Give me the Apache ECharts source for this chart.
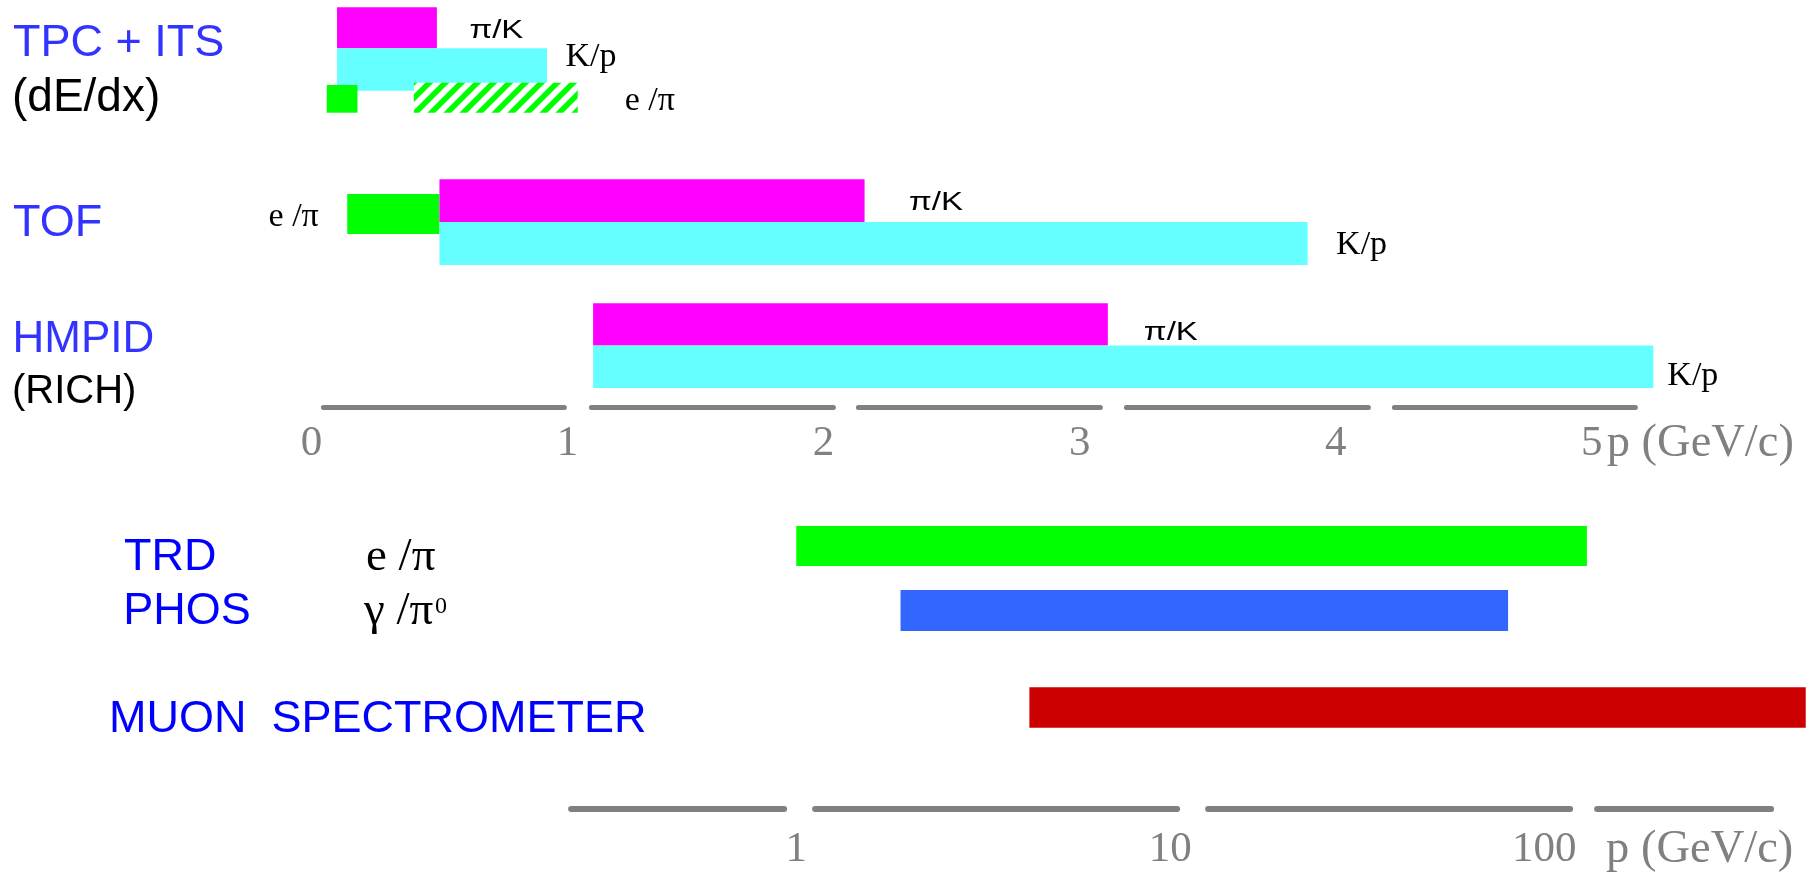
<!DOCTYPE html>
<html>
<head>
<meta charset="utf-8">
<title>ALICE particle identification ranges</title>
<script src="https://cdn.jsdelivr.net/npm/echarts@6/dist/echarts.min.js"></script>
<style>
  html, body { margin: 0; padding: 0; background: #ffffff; }
  #chart { width: 1818px; height: 874px; }
</style>
</head>
<body>
<div id="chart"></div>
<script>
// ---------------------------------------------------------------------------
// Momentum ranges (GeV/c) over which each detector separates a particle pair
// ---------------------------------------------------------------------------

// Low-momentum panel, linear scale
const lowDetector = ['TPC + ITS', 'TPC + ITS', 'TPC + ITS', 'TPC + ITS', 'TOF', 'TOF', 'TOF', 'HMPID', 'HMPID'];
const lowPair     = ['π/K', 'K/p', 'e /π', 'e /π', 'e /π', 'π/K', 'K/p', 'π/K', 'K/p'];
const lowFrom     = [0.10, 0.10, 0.06, 0.40, 0.14, 0.50, 0.50, 1.10, 1.10];
const lowTo       = [0.49, 0.92, 0.18, 1.04, 0.50, 2.16, 3.89, 3.11, 5.24];
const lowTicks    = [0, 1, 2, 3, 4, 5];

// High-momentum panel, logarithmic scale
const highDetector = ['TRD', 'PHOS', 'MUON  SPECTROMETER'];
const highPair     = ['e /π', 'γ /π', ''];
const highPairSup  = ['', '0', ''];
const highFrom     = [1.0, 1.9, 4.2];
const highTo       = [130, 80, 500];
const highTicks    = [1, 10, 100];

const axisTitle = 'p (GeV/c)';

// ---------------------------------------------------------------------------
// Layout and look
// ---------------------------------------------------------------------------

// vertical placement of each bar, in row units of its panel (top edge, thickness)
const lowRows = [
  { top: 0.000, span: 0.970 }, { top: 0.970, span: 1.002 },
  { top: 1.837, span: 0.655 }, { top: 1.783, span: 0.709 },
  { top: 4.414, span: 0.945 }, { top: 4.066, span: 1.010 }, { top: 5.076, span: 1.016 },
  { top: 6.998, span: 0.997 }, { top: 7.995, span: 1.005 }
];
const highRows = [
  { top: 0.000, span: 0.976 }, { top: 1.561, span: 1.000 }, { top: 3.934, span: 0.985 }
];

const MAGENTA = '#ff00ff', CYAN = '#66ffff', GREEN = '#00ff00';
const lowLook  = [MAGENTA, CYAN, GREEN, 'hatch', GREEN, MAGENTA, CYAN, MAGENTA, CYAN];
const highLook = [GREEN, '#3366ff', '#cc0000'];

// where the pair label sits next to its bar (px from the bar end / start and from its centre line)
const lowLabelPlace = [
  { side: 'end',   dx: 32.5,  dy: 3.5,  face: 'sans'  },
  { side: 'end',   dx: 18.5,  dy: -12,  face: 'serif' },
  null,
  { side: 'end',   dx: 47,    dy: 3.0,  face: 'serif' },
  { side: 'start', dx: -28.5, dy: 3.2,  face: 'serif' },
  { side: 'end',   dx: 44.5,  dy: 2.5,  face: 'sans'  },
  { side: 'end',   dx: 28.5,  dy: 1.5,  face: 'serif' },
  { side: 'end',   dx: 36,    dy: 8.5,  face: 'sans'  },
  { side: 'end',   dx: 14,    dy: 9.5,  face: 'serif' }
];

const SANS = '"Liberation Sans", Arial, sans-serif';
const SERIF = '"Liberation Serif", "Times New Roman", serif';
const GREY = '#808080';

// green diagonal hatching used for the extended TPC e/π range
function hatchPattern() {
  const s = 16;
  const c = document.createElement('canvas');
  c.width = c.height = s;
  const g = c.getContext('2d');
  g.fillStyle = '#ffffff';
  g.fillRect(0, 0, s, s);
  g.strokeStyle = GREEN;
  g.lineWidth = 5.5;
  g.beginPath();
  g.moveTo(-4, s + 4); g.lineTo(s + 4, -4);
  g.moveTo(-4, 4);     g.lineTo(4, -4);
  g.moveTo(s - 4, s + 4); g.lineTo(s + 4, s - 4);
  g.stroke();
  return { image: c, repeat: 'repeat' };
}
const HATCH = hatchPattern();

function labelStyle(text, face, align) {
  const font = face === 'sans' ? '26px ' + SANS : '34px ' + SERIF;
  return {
    text: text, font: font, fill: '#000000',
    align: align, verticalAlign: 'middle',
    textAlign: align, textVerticalAlign: 'middle'
  };
}

// range bar drawn from the axis scales, plus its pair label
function makeRenderer(looks, pairs, places) {
  return function (params, api) {
    const i = params.dataIndex;
    const a = api.coord([api.value(0), api.value(2)]);
    const b = api.coord([api.value(1), api.value(3)]);
    const x = a[0], y = a[1], w = b[0] - a[0], h = b[1] - a[1];
    const look = looks[i];
    const children = [{
      type: 'rect',
      shape: { x: x, y: y, width: w, height: h },
      style: { fill: look === 'hatch' ? HATCH : look }
    }];
    const pl = places && places[i];
    if (pl) {
      const tx = pl.side === 'start' ? x + pl.dx : x + w + pl.dx;
      const ty = y + h / 2 + pl.dy;
      children.push({
        type: 'text',
        x: tx, y: ty,
        scaleX: pl.face === 'sans' ? 1.27 : 1,
        style: labelStyle(pairs[i], pl.face, pl.side === 'start' ? 'right' : 'left')
      });
    }
    return { type: 'group', children: children };
  };
}

const lowData = lowFrom.map((f, i) => [f, lowTo[i], lowRows[i].top, lowRows[i].top + lowRows[i].span, lowDetector[i]]);
const highData = highFrom.map((f, i) => [f, highTo[i], highRows[i].top, highRows[i].top + highRows[i].span, highDetector[i]]);

function textEl(text, x, y, size, color, family) {
  return {
    type: 'text', x: x, y: y, silent: true,
    style: {
      text: text, font: size + 'px ' + family, fill: color,
      align: 'left', verticalAlign: 'middle',
      textAlign: 'left', textVerticalAlign: 'middle'
    }
  };
}

const BLUE_TOP = '#3333ff', BLUE_LOW = '#0000ff';

const graphicText = [
  textEl(lowDetector[0], 13, 44, 45, BLUE_TOP, SANS),
  textEl('(dE/dx)', 12, 98, 46, '#000000', SANS),
  textEl(lowDetector[4], 13, 224, 45, BLUE_TOP, SANS),
  textEl(lowDetector[7], 12.5, 339.5, 44, BLUE_TOP, SANS),
  textEl('(RICH)', 12, 392, 40, '#000000', SANS),
  textEl(highDetector[0], 124, 557.2, 45, BLUE_LOW, SANS),
  textEl(highDetector[1], 123.3, 611.5, 45, BLUE_LOW, SANS),
  textEl(highDetector[2], 109, 720, 45, BLUE_LOW, SANS),
  textEl(highPair[0], 366, 557.5, 47, '#000000', SERIF),
  textEl(highPair[1], 364, 611.3, 47, '#000000', SERIF),
  textEl(highPairSup[1], 435, 606.5, 24, '#000000', SERIF)
];

const axisLabelBase = {
  color: GREY, fontFamily: 'Liberation Serif', fontSize: 43, verticalAlign: 'middle'
};

// axis title sitting on the tick-label row, pushed down by a padded rich token
function axisName(drop) {
  return {
    name: '{n|' + axisTitle + '}',
    nameLocation: 'end',
    nameMoveOverlap: false,
    nameTextStyle: {
      align: 'left', verticalAlign: 'middle',
      rich: { n: { color: GREY, fontFamily: 'Liberation Serif', fontSize: 46.5, padding: [drop * 2, 0, 0, 0] } }
    }
  };
}

const option = {
  animation: false,
  backgroundColor: '#ffffff',
  grid: [
    { left: 311.4, top: 7.3, width: 1357.3, height: 380.7, containLabel: false, outerBoundsMode: 'none' },
    { left: 571.1, top: 526, width: 1241, height: 205, containLabel: false, outerBoundsMode: 'none' }
  ],
  xAxis: [
    Object.assign({
      gridIndex: 0, type: 'value', min: 0, max: 5.3, offset: 19, position: 'bottom',
      axisLine: { show: true, onZero: false,
        lineStyle: { color: GREY, width: 5,
          type: [241, 27, 242, 25, 242, 26, 242, 26, 241, 412], dashOffset: 1712 } },
      axisTick: { show: false }, splitLine: { show: false },
      axisLabel: Object.assign({ customValues: lowTicks, margin: 37 }, axisLabelBase),
      nameGap: -62
    }, axisName(36.5)),
    Object.assign({
      gridIndex: 1, type: 'log', logBase: 10, min: 0.25, max: 520, offset: 78, position: 'bottom',
      axisLine: { show: true, onZero: false,
        lineStyle: { color: GREY, width: 6, type: [213, 31, 362, 31, 362, 27, 174, 300] } },
      axisTick: { show: false }, splitLine: { show: false }, minorTick: { show: false },
      axisLabel: Object.assign({ customValues: highTicks, margin: 41 }, axisLabelBase),
      nameGap: -206
    }, axisName(41))
  ],
  yAxis: [
    { gridIndex: 0, type: 'value', inverse: true, min: 0, max: 9, show: false },
    { gridIndex: 1, type: 'value', inverse: true, min: 0, max: 5, show: false }
  ],
  series: [
    {
      name: 'low momentum', type: 'custom', xAxisIndex: 0, yAxisIndex: 0,
      renderItem: makeRenderer(lowLook, lowPair, lowLabelPlace),
      encode: { x: [0, 1], y: [2, 3] },
      data: lowData
    },
    {
      name: 'high momentum', type: 'custom', xAxisIndex: 1, yAxisIndex: 1,
      renderItem: makeRenderer(highLook, highPair, null),
      encode: { x: [0, 1], y: [2, 3] },
      data: highData
    }
  ],
  graphic: { elements: graphicText }
};

const chart = echarts.init(document.getElementById('chart'), null, { renderer: 'canvas' });
chart.setOption(option);
</script>
</body>
</html>
